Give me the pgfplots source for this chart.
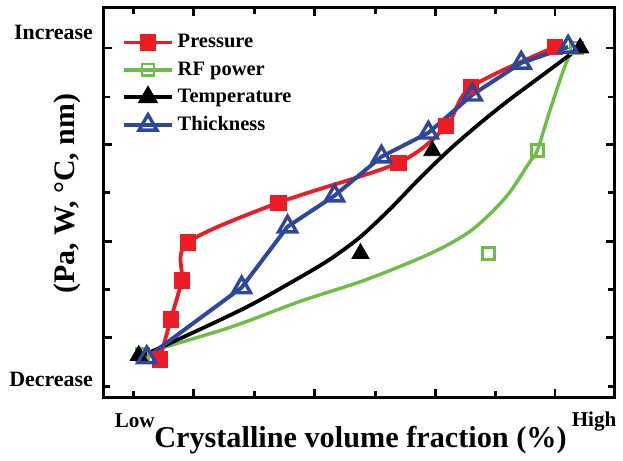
\documentclass[border=0pt]{standalone}
\usepackage{fontspec}
\setmainfont{Liberation Serif}
\usepackage{pgfplots}
\pgfplotsset{compat=1.18}
\definecolor{pred}{RGB}{237,28,36}
\definecolor{pgreen}{RGB}{108,190,69}
\definecolor{pblue}{RGB}{44,72,158}

\begin{document}
\begin{tikzpicture}
\begin{axis}[
  scale only axis, width=255.5bp, height=195bp,
  xmin=104, xmax=615, ymin=2, ymax=392,
  axis line style={line width=1.5bp},
  xtick={194,315,436,556}, minor xtick={134,255,376,496},
  ytick={62,158,255,352}, minor ytick={13,110,207,303},
  xticklabels={}, yticklabels={},
  major tick length=4bp, minor tick length=3bp,
  every tick/.style={line width=1.3bp, black},
  tick align=inside,
  clip=false,
  legend image code/.code={\draw[mark repeat=2,mark phase=2,#1] plot coordinates {(0cm,0cm) (0.42cm,0cm) (0.84cm,0cm)};},
  legend style={at={(axis cs:122,370)}, anchor=north west, draw=none, fill=none,
    font=\fontsize{10.3}{11}\selectfont\bfseries, row sep=1.5bp, inner sep=0pt},
  legend cell align=left,
]
% RF power
\addplot[pgreen, line width=1.7bp, smooth, forget plot] coordinates {
  (143,46)(230,72)(300,98)(367,120)(433,147)(473,170)(507,203)(530,237)(538,249)(550,287)(567,337)(577,352)};
\addplot[pgreen, only marks, mark=square, mark size=3pt, line width=1.4bp, mark options={fill=white}, forget plot] coordinates {
  (143,45)(489,146)(538,249)(577,352)};
% Temperature
\addplot[black, line width=1.9bp, smooth, forget plot] coordinates {
  (139,42)(200,70)(250,94)(300,122)(330,140)(360,162)(390,190)(420,221)(450,250)(480,276)(510,300)(545,326)(580,352)};
\addplot[black, only marks, mark=triangle*, mark size=5pt, forget plot] coordinates {
  (139,44)(361,146)(433,249)(581,352)};
% Pressure
\addplot[pred, line width=1.9bp, smooth, mark=square*, mark size=3.6pt, mark options={line width=1bp}, forget plot] coordinates {
  (160,40)(171,80)(182,119)(188,157)(279,197)(399,237)(447,274)(472,313)(556,353)};
% Thickness
\addplot[pblue, line width=2bp, mark=triangle, mark size=5.2pt, mark options={fill=white, line width=1.7bp}, forget plot] coordinates {
  (147,42)(242,112)(288,173)(335,204)(382,243)(429,267)(473,305)(522,337)(569,353)};

\addlegendimage{pred, line width=1.9bp, mark=square*, mark size=3.6pt, mark options={line width=1bp}}
\addlegendentry{Pressure}
\addlegendimage{pgreen, line width=1.7bp, mark=square, mark size=3pt, mark options={fill=white, line width=1.4bp}}
\addlegendentry{RF power}
\addlegendimage{black, line width=1.9bp, mark=triangle*, mark size=5pt, mark options={line width=1bp}}
\addlegendentry{Temperature}
\addlegendimage{pblue, line width=2bp, mark=triangle, mark size=5.2pt, mark options={fill=white, line width=1.7bp}}
\addlegendentry{Thickness}

\node[anchor=east, font=\fontsize{11}{12}\selectfont\bfseries] at (axis cs:100,368) {Increase};
\node[anchor=east, font=\fontsize{11}{12}\selectfont\bfseries] at (axis cs:100,20) {Decrease};
\node[font=\fontsize{10.6}{12}\selectfont\bfseries] at (axis cs:135,-21) {Low};
\node[font=\fontsize{10.6}{12}\selectfont\bfseries] at (axis cs:595,-22) {High};
\node[font=\fontsize{15.2}{17}\selectfont\bfseries] at (axis cs:361,-41) {Crystalline volume fraction (\%)};
\node[rotate=90, font=\fontsize{15}{17}\selectfont\bfseries] at (axis cs:67,206) {(Pa, W, °C, nm)};
\coordinate (bl) at (axis cs:0,-57);
\coordinate (tr) at (axis cs:623,400);
\end{axis}
\path (bl) rectangle (tr);
\end{tikzpicture}
\end{document}
